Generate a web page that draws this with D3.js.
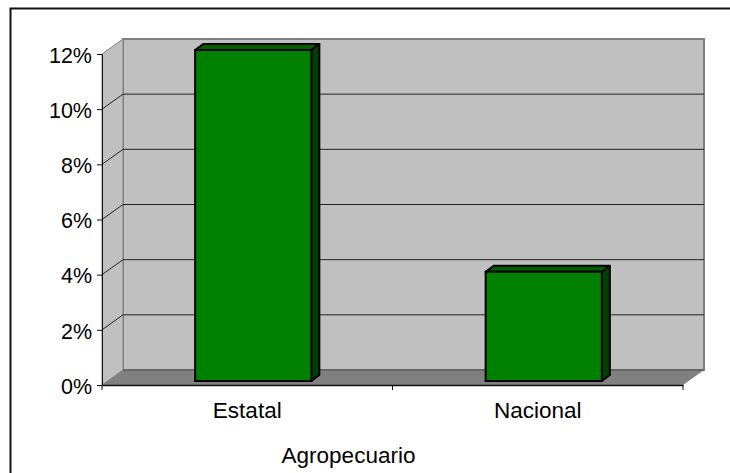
<!DOCTYPE html>
<html>
<head>
<meta charset="utf-8">
<script src="https://cdn.jsdelivr.net/npm/d3@7"></script>
<style>
  html, body { margin: 0; padding: 0; background: #fff; }
  svg { display: block; }
  text { font-family: "Liberation Sans", Arial, sans-serif; fill: #000; }
</style>
</head>
<body>
<svg id="chart"></svg>
<script>
const categories = ['Estatal', 'Nacional'];
const values = [12, 3.96];
const yTicks = [0, 2, 4, 6, 8, 10, 12];
const axisTitle = 'Agropecuario';

const width = 730;
const height = 473;

// front plane of the fake 3d box
const x0 = 102, x1 = 683, y0 = 385, yTop = 54;
const depth = { x: 21, y: -15 };
const barDepth = { x: 8, y: -6 };
const barOffset = { x: 6, y: -4 };

const svg = d3.select('#chart').attr('width', width).attr('height', height);

const xScale = d3.scaleBand()
  .domain(categories)
  .range([x0, x1])
  .paddingInner(0.6)
  .paddingOuter(0.3);

const xBand = d3.scaleBand().domain(categories).range([x0, x1]);

const yScale = d3.scaleLinear().domain([0, 12]).range([y0, yTop]);

// outer frame
svg.append('path')
  .attr('d', `M10.5,473V8.5H730`)
  .attr('fill', 'none')
  .attr('stroke', '#111')
  .attr('stroke-width', 2);

// back wall
svg.append('rect')
  .attr('x', x0 + depth.x)
  .attr('y', yTop + depth.y)
  .attr('width', x1 - x0)
  .attr('height', y0 - yTop)
  .attr('fill', '#c0c0c0')
  .attr('stroke', '#808080')
  .attr('stroke-width', 2);

// side wall
svg.append('path')
  .attr('d', `M${x0},${yTop}L${x0 + depth.x},${yTop + depth.y}V${y0 + depth.y}L${x0},${y0}Z`)
  .attr('fill', '#c0c0c0')
  .attr('stroke', '#808080')
  .attr('stroke-width', 1);

// floor
svg.append('path')
  .attr('d', `M${x0},${y0}L${x0 + depth.x},${y0 + depth.y}H${x1 + depth.x}L${x1},${y0}Z`)
  .attr('fill', '#808080');

svg.append('line')
  .attr('x1', x0 + depth.x)
  .attr('x2', x1 + depth.x)
  .attr('y1', y0 + depth.y)
  .attr('y2', y0 + depth.y)
  .attr('stroke', '#666')
  .attr('stroke-width', 2);

// gridlines, run along the side wall then the back wall
svg.selectAll('.grid')
  .data(yTicks.filter((d) => d > 0 && d < 12))
  .enter()
  .append('path')
  .attr('class', 'grid')
  .attr('d', (d) => `M${x0},${yScale(d)}l${depth.x},${depth.y}H${x1 + depth.x}`)
  .attr('fill', 'none')
  .attr('stroke', '#222')
  .attr('stroke-width', 1);

const bars = svg.selectAll('.bar')
  .data(categories.map((c, i) => ({ category: c, value: values[i] })))
  .enter()
  .append('g')
  .attr('class', 'bar')
  .attr('transform', `translate(${barOffset.x},${barOffset.y})`);

const barW = xScale.bandwidth();

// top face
bars.append('path')
  .attr('d', (d) => `M${xScale(d.category)},${yScale(d.value)}l${barDepth.x},${barDepth.y}h${barW}l${-barDepth.x},${-barDepth.y}Z`)
  .attr('fill', '#006000')
  .attr('stroke', '#000')
  .attr('stroke-width', 2)
  .attr('stroke-linejoin', 'round');

// side face
bars.append('path')
  .attr('d', (d) => `M${xScale(d.category) + barW},${yScale(d.value)}l${barDepth.x},${barDepth.y}V${y0 + barDepth.y}l${-barDepth.x},${-barDepth.y}Z`)
  .attr('fill', '#004000')
  .attr('stroke', '#000')
  .attr('stroke-width', 2)
  .attr('stroke-linejoin', 'round');

// front face
bars.append('rect')
  .attr('x', (d) => xScale(d.category))
  .attr('y', (d) => yScale(d.value))
  .attr('width', barW)
  .attr('height', (d) => y0 - yScale(d.value))
  .attr('fill', '#008000')
  .attr('stroke', '#000')
  .attr('stroke-width', 2);

// axes
const yAxis = d3.axisLeft(yScale)
  .tickValues(yTicks)
  .tickFormat((d) => d + '%')
  .tickSize(5)
  .tickPadding(5)
  .tickSizeOuter(0);

const yG = svg.append('g')
  .attr('transform', `translate(${x0},0)`)
  .call(yAxis);
yG.selectAll('text').style('font-size', '21.5px').attr('dy', '0.38em');
yG.selectAll('line, path').attr('stroke', '#111');

const xAxis = d3.axisBottom(xBand)
  .tickSize(0)
  .tickPadding(17);

const xG = svg.append('g')
  .attr('transform', `translate(0,${y0})`)
  .call(xAxis);
xG.selectAll('text').style('font-size', '22.5px');
xG.selectAll('path').attr('stroke', '#111').attr('stroke-width', 1.5);

// category boundary ticks
xG.selectAll('.sep')
  .data([x0, x0 + xBand.bandwidth(), x1])
  .enter()
  .append('line')
  .attr('class', 'sep')
  .attr('x1', (d) => d)
  .attr('x2', (d) => d)
  .attr('y1', 0)
  .attr('y2', 5)
  .attr('stroke', '#111');

svg.append('text')
  .attr('x', 348.5)
  .attr('y', 463)
  .attr('text-anchor', 'middle')
  .style('font-size', '22.5px')
  .text(axisTitle);
</script>
</body>
</html>
